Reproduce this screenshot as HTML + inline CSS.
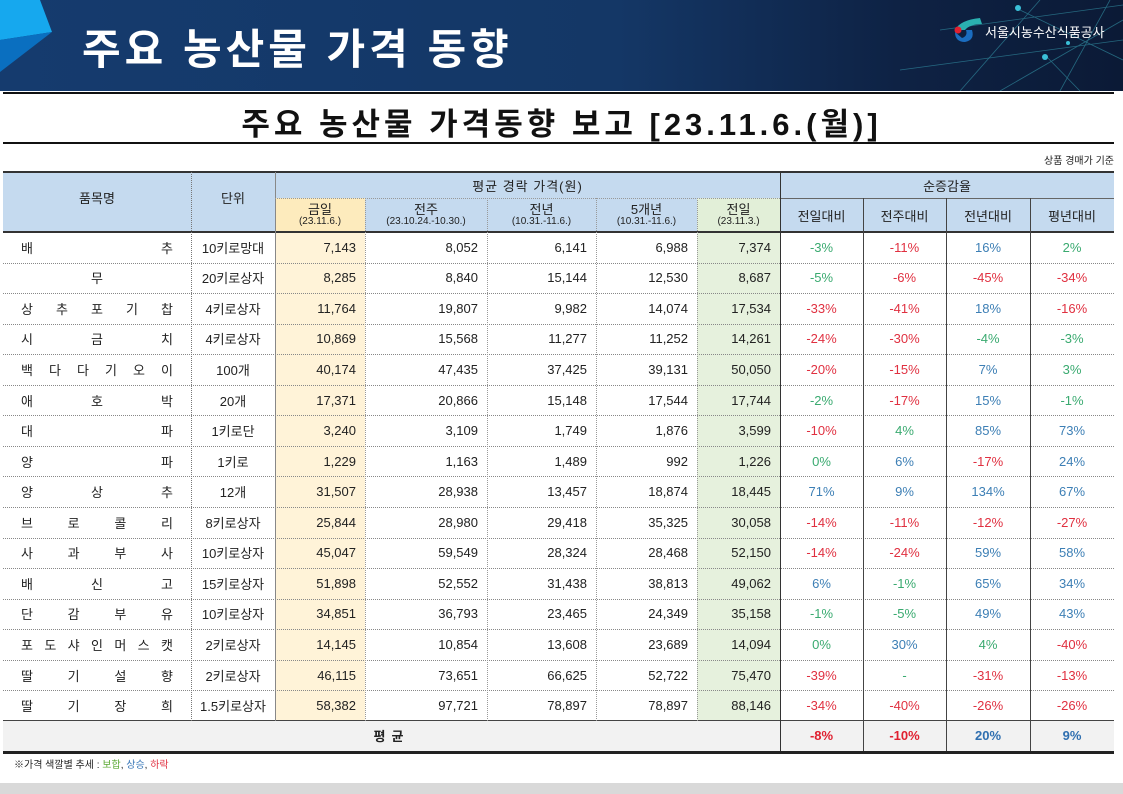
<!DOCTYPE html>
<html><head><meta charset="utf-8">
<style>
*{margin:0;padding:0;box-sizing:border-box}
body{width:1123px;height:794px;background:#fff;position:relative;overflow:hidden;font-family:"Liberation Sans","Noto Sans CJK KR",sans-serif}
#banner{position:absolute;left:0;top:0;width:1123px;height:91px;background:linear-gradient(90deg,#153b6e 0%,#143766 55%,#0e2244 80%,#0b1a36 100%)}
.abs{position:absolute}
.cell{position:absolute;display:flex;align-items:center;font-size:13px;color:#222;white-space:nowrap}
.r{justify-content:flex-end;padding-right:9px}
.c{justify-content:center}
</style></head><body>
<div id="banner">
<svg class="abs" style="left:0;top:0" width="1123" height="91">
<polygon points="0,0 40,0 52,32 0,40" fill="#16a8ee"/>
<polygon points="0,40 52,32 0,72" fill="#0a6fc0"/>
<g stroke="#3aa6b8" stroke-width="0.8" opacity="0.55" fill="none">
<line x1="960" y1="91" x2="1040" y2="0"/><line x1="1000" y1="91" x2="1123" y2="20"/>
<line x1="1060" y1="91" x2="1110" y2="0"/><line x1="900" y1="70" x2="1123" y2="40"/>
<line x1="1020" y1="10" x2="1123" y2="60"/><line x1="1045" y1="55" x2="1080" y2="91"/>
<line x1="940" y1="30" x2="1123" y2="5"/>
</g>
<circle cx="1018" cy="8" r="3" fill="#3ac0d8"/><circle cx="1045" cy="57" r="3" fill="#3ac0d8"/>
<circle cx="1068" cy="43" r="2" fill="#3ac0d8"/>
<path d="M980,18 Q960,20 955,30 L965,30 Q970,24 982,24 Z" fill="#2ab0b0"/>
<path d="M955,32 Q955,42 965,42 Q975,40 972,30 L966,30 Q968,36 962,38 Z" fill="#1b6dc0"/>
<circle cx="958" cy="30" r="3.5" fill="#e02030"/>
</svg>
<div class="abs" style="left:82px;top:16px;font-size:42px;font-weight:bold;color:#fff;letter-spacing:4px">주요 농산물 가격 동향</div>
<div class="abs" style="left:985px;top:22px;font-size:13px;color:#fff">서울시농수산식품공사</div>
</div>
<div class="abs" style="left:3px;top:92px;width:1111px;height:2px;background:#111"></div>
<div class="abs" style="left:0;top:99px;width:1123px;text-align:center;font-size:31px;font-weight:bold;color:#111;letter-spacing:4px">주요 농산물 가격동향 보고 [23.11.6.(월)]</div>
<div class="abs" style="left:3px;top:142px;width:1111px;height:2px;background:#111"></div>
<div class="abs" style="left:990px;top:152px;width:124px;text-align:right;font-size:10px;color:#222">상품 경매가 기준</div>
<div id="tbl"></div>
<div class="abs" style="left:14px;top:756px;font-size:10px;color:#222">※가격 색깔별 추세 : <span style="color:#5aa832">보합</span>, <span style="color:#3a78b8">상승</span>, <span style="color:#e03040">하락</span></div>
<div class="abs" style="left:0;top:783px;width:1123px;height:11px;background:#d9d9d9"></div>
<script>
const items=["배추","무","상추포기찹","시금치","백다다기오이","애호박","대파","양파","양상추","브로콜리","사과부사","배신고","단감부유","포도샤인머스캣","딸기설향","딸기장희"];
const itemLabels=["배 추","무","상 추 포 기 찹","시 금 치","백 다 다 기 오 이","애 호 박","대 파","양 파","양 상 추","브 로 콜 리","사 과 부 사","배 신 고","단 감 부 유","포 도 샤 인 머 스 캣","딸 기 설 향","딸 기 장 희"];
const units=["10키로망대","20키로상자","4키로상자","4키로상자","100개","20개","1키로단","1키로","12개","8키로상자","10키로상자","15키로상자","10키로상자","2키로상자","2키로상자","1.5키로상자"];
const priceToday=[7143,8285,11764,10869,40174,17371,3240,1229,31507,25844,45047,51898,34851,14145,46115,58382];
const priceLastWeek=[8052,8840,19807,15568,47435,20866,3109,1163,28938,28980,59549,52552,36793,10854,73651,97721];
const priceLastYear=[6141,15144,9982,11277,37425,15148,1749,1489,13457,29418,28324,31438,23465,13608,66625,78897];
const price5yr=[6988,12530,14074,11252,39131,17544,1876,992,18874,35325,28468,38813,24349,23689,52722,78897];
const pricePrevDay=[7374,8687,17534,14261,50050,17744,3599,1226,18445,30058,52150,49062,35158,14094,75470,88146];
const chgPrevDay=[-3,-5,-33,-24,-20,-2,-10,0,71,-14,-14,6,-1,0,-39,-34];
const chgPrevWeek=[-11,-6,-41,-30,-15,-17,4,6,9,-11,-24,-1,-5,30,null,-40];
const chgLastYear=[16,-45,18,-4,7,15,85,-17,134,-12,59,65,49,4,-31,-26];
const chgNormal=[2,-34,-16,-3,3,-1,73,24,67,-27,58,34,43,-40,-13,-26];
const avgChanges=[-8,-10,20,9];

const X=[3,191,275,365,487,596,697,780,863,946,1030,1114];
const T0=172,H1=198,H2=232,ROWH=30.56,N=items.length,AVG=H2+ROWH*N,BOT=AVG+30;
const tbl=document.getElementById('tbl');
function box(x,y,w,h,css){const d=document.createElement('div');d.className='cell';d.style.cssText=`left:${x}px;top:${y}px;width:${w}px;height:${h}px;`+(css||'');tbl.appendChild(d);return d;}
function col(v){if(v===null)return '#3aaa70';if(Math.abs(v)<=5)return '#3aaa70';return v>0?'#3d7fb5':'#e03040';}
const fmt=v=>v.toLocaleString('en-US');

let e;
e=box(X[0],T0,X[11]-X[0],H2-T0,'background:#c5daef');


e=box(X[2],H1,X[3]-X[2],H2-H1,'background:#fdebbd');


e=box(X[6],H1,X[7]-X[6],H2-H1,'background:#e2efd8');


e=box(X[2],H2,X[3]-X[2],AVG-H2,'background:#fff3d8');


e=box(X[6],H2,X[7]-X[6],AVG-H2,'background:#e6f1dd');


e=box(X[0],AVG,X[11]-X[0],BOT-AVG,'background:#f2f2f2');



e=box(X[0],T0,X[1]-X[0],H2-T0-10,'justify-content:center;font-size:13px');e.textContent='품목명';


e=box(X[1],T0,X[2]-X[1],H2-T0-10,'justify-content:center');e.textContent='단위';


e=box(X[2],T0,X[7]-X[2],H1-T0,'justify-content:center;letter-spacing:1px');e.textContent='평균 경락 가격(원)';


e=box(X[7],T0,X[11]-X[7],H1-T0,'justify-content:center');e.textContent='순증감율';


const subH=[["금일","(23.11.6.)"],["전주","(23.10.24.-10.30.)"],["전년","(10.31.-11.6.)"],["5개년","(10.31.-11.6.)"],["전일","(23.11.3.)"]];
subH.forEach((s,i)=>{e=box(X[2+i],H1,X[3+i]-X[2+i],H2-H1,'flex-direction:column;justify-content:center;line-height:1');
e.innerHTML=`<span style="font-size:13px">${s[0]}</span><span style="font-size:10px;margin-top:1px">${s[1]}</span>`;

});
["전일대비","전주대비","전년대비","평년대비"].forEach((s,i)=>{e=box(X[7+i],H1,X[8+i]-X[7+i],H2-H1,'justify-content:center;font-size:13px');e.textContent=s;

});

const priceCols=[priceToday,priceLastWeek,priceLastYear,price5yr,pricePrevDay];
const chgCols=[chgPrevDay,chgPrevWeek,chgLastYear,chgNormal];
for(let r=0;r<N;r++){
  const y=H2+r*ROWH;
  const lbl=itemLabels[r].split(' ');
  e=box(X[0]+18,y,X[1]-X[0]-36,ROWH,'justify-content:'+(lbl.length>1?'space-between':'center')+';font-size:13px');
  e.innerHTML=lbl.map(c=>`<span>${c}</span>`).join('');
  
  
  e=box(X[1],y,X[2]-X[1],ROWH,'justify-content:center');e.textContent=units[r];
  
  
  priceCols.forEach((arr,i)=>{e=box(X[2+i],y,X[3+i]-X[2+i],ROWH);e.classList.add('r');e.textContent=fmt(arr[r]);
  
  });
  chgCols.forEach((arr,i)=>{const v=arr[r];e=box(X[7+i],y,X[8+i]-X[7+i],ROWH,'justify-content:center;color:'+col(v));e.textContent=v===null?'-':v+'%';
  
  });
  if(r>0){e=box(X[0],y,X[11]-X[0],0,'border-top:1px dotted #888');
  
  }
}
e=box(X[0],AVG,X[7]-X[0],BOT-AVG,'justify-content:center;font-weight:bold;letter-spacing:6px');e.textContent='평균';


avgChanges.forEach((v,i)=>{e=box(X[7+i],AVG,X[8+i]-X[7+i],BOT-AVG,'justify-content:center;font-weight:bold;color:'+(v>0?'#2f6fb0':'#e02030'));e.textContent=v+'%';

});

function hl(y,w,c,name){e=box(X[0],y,X[11]-X[0],w,'background:'+c);

}
function vl(x,y1,y2,css,name){e=box(x,y1,0,y2-y1,css);

}
hl(T0-1,2,'#333','table-top-border');
hl(H2-1,2,'#333','header-bottom-border');
hl(AVG-1,1,'#444','average-top-border');
hl(BOT,3,'#222','table-bottom-border');
vl(X[1],T0,AVG,'border-left:1px dotted #777','column-divider');
vl(X[2],T0,AVG,'border-left:1px solid #888','column-divider');
for(let i=3;i<7;i++)vl(X[i],H1,AVG,'border-left:1px dotted #999','column-divider');
e=box(X[2],H1,X[7]-X[2],0,'border-top:1px dotted #999');


e=box(X[7],H1,X[11]-X[7],0,'border-top:1px solid #666');


vl(X[7],T0,BOT,'border-left:1px solid #333','column-divider');
for(let i=8;i<11;i++)vl(X[i],H1,BOT,'border-left:1px solid #444','column-divider');
</script>
</body></html>
